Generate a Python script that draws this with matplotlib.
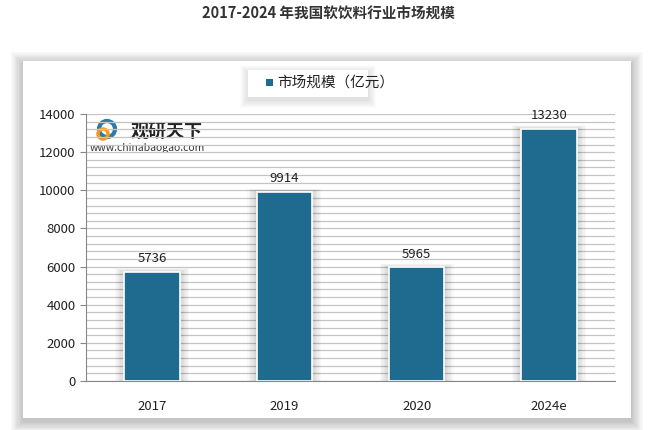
import matplotlib.pyplot as plt
from matplotlib.patches import Rectangle
import numpy as np

plt.rcParams['font.family'] = ['Noto Sans CJK SC', 'DejaVu Sans']

years = ["2017", "2019", "2020", "2024e"]
market_size = [5736, 9914, 5965, 13230]
title = "2017-2024 年我国软饮料行业市场规模"
legend_label = "市场规模（亿元）"

bar_color = "#1f6b8f"
W, H = 656, 430

fig = plt.figure(figsize=(6.56, 4.3), dpi=100)
fig.patch.set_facecolor("white")

# background overlay in pixel coords
bg = fig.add_axes([0, 0, 1, 1])
bg.set_xlim(0, W)
bg.set_ylim(H, 0)
bg.axis("off")


def soft_shadow(x0, y0, w, h, spread, alpha, dy=2):
    # stacked translucent rects to fake a blur
    for g in np.linspace(spread, 0.5, 10):
        bg.add_patch(Rectangle((x0 - g, y0 - g + dy), w + 2 * g, h + 2 * g,
                               facecolor="black", alpha=alpha, edgecolor="none"))


soft_shadow(23, 61, 608, 357, 12, 0.022, dy=3)
bg.add_patch(Rectangle((23, 61), 608, 357, facecolor="white", edgecolor="none"))

# legend box with shadow
soft_shadow(248, 70, 120, 27, 8, 0.012, dy=3)
bg.add_patch(Rectangle((248, 70), 120, 27, facecolor="white", edgecolor="none"))
bg.add_patch(Rectangle((266, 79), 7, 7, facecolor=bar_color, edgecolor="none"))
bg.text(277, 83, legend_label, fontsize=10.5, va="center", ha="left", color="#222222")

bg.text(328, 14, title, fontsize=10.5, fontweight="bold", ha="center", va="center",
        color="#333333")

# main axes
left, right, top, bottom = 86, 615, 114, 381
ax = fig.add_axes([left / W, 1 - bottom / H, (right - left) / W, (bottom - top) / H])
ax.set_facecolor("none")
x = np.arange(len(years))

# bar shadows
for xi, v in zip(x, market_size):
    for s in np.linspace(0.07, 0.01, 7):
        ax.bar(xi, v + s * 2500, width=0.42 + 2 * s, color="black",
               alpha=0.025, zorder=2, linewidth=0)

bars = ax.bar(x, market_size, width=0.42, color=bar_color, edgecolor="white",
              linewidth=1.2, zorder=3)
for xi, v in zip(x, market_size):
    ax.text(xi, v + 350, str(v), ha="center", va="bottom", fontsize=9.5, color="#222222")

ax.set_xlim(-0.5, len(years) - 0.5)
ax.set_ylim(0, 14000)
ax.set_yticks(np.arange(0, 14001, 2000))
ax.set_yticks(np.arange(0, 14001, 400), minor=True)
ax.yaxis.grid(True, which="both", color="#c4c4c4", linewidth=0.9, zorder=0)
ax.set_axisbelow(True)
ax.set_xticks(x)
ax.set_xticklabels(years, fontsize=9.5, color="#222222")
ax.tick_params(axis="y", which="major", labelsize=9.5, labelcolor="#222222",
               length=4, color="#888888")
ax.tick_params(axis="y", which="minor", length=0)
ax.tick_params(axis="x", length=0, pad=14)
for sp in ["top", "right"]:
    ax.spines[sp].set_visible(False)
ax.spines["left"].set_color("#888888")
ax.spines["bottom"].set_color("#888888")

# watermark
bg.text(131, 131, "观研天下", fontsize=13, fontweight="bold", ha="left", va="center",
        color="#222222")
bg.text(90, 148, "www.chinabaogao.com", fontsize=7.5, ha="left", va="center", color="#333333")
bg.add_patch(plt.Circle((107, 129), 8, facecolor="none", edgecolor="#2a7ab0", linewidth=3))
bg.add_patch(plt.Circle((103, 134), 5, facecolor="none", edgecolor="#f39a1e", linewidth=2.5))

fig.savefig("out.png", dpi=100)
